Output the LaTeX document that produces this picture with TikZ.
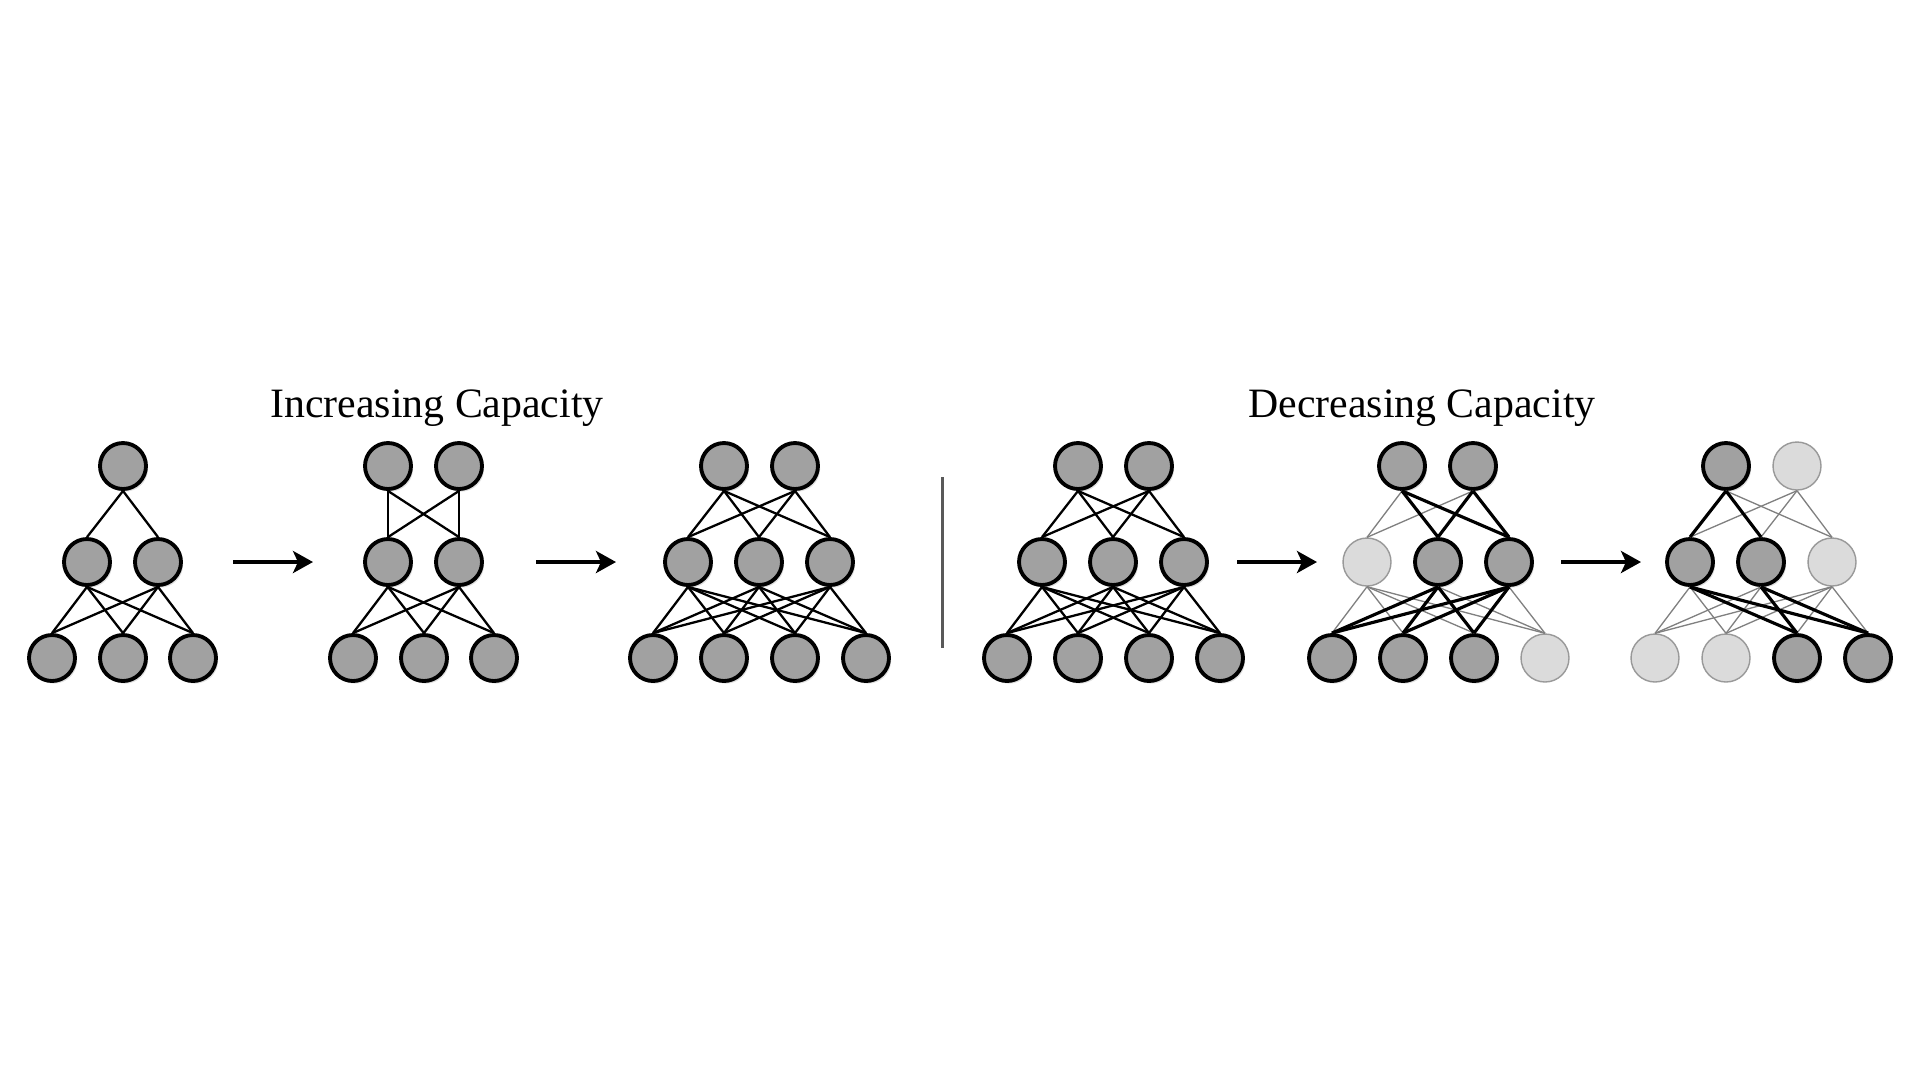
\documentclass[tikz,border=0pt]{standalone}
\usepackage{fontspec}
\setmainfont{Liberation Serif}
\usepackage{tikz}
\usetikzlibrary{shapes,arrows,arrows.meta}
\usetikzlibrary{shadows}

\begin{document}
\begin{tikzpicture}[x=0.02cm,y=-0.02cm]
\tikzstyle{unit} = [circle,minimum size=0.92cm,inner sep=0pt,fill=black!37,draw=black,line width=2.2pt,drop shadow={shadow xshift=1.2pt,shadow yshift=-1.5pt,opacity=0.25}]
\tikzstyle{offunit} = [circle,minimum size=0.96cm,inner sep=0pt,fill=black!14,draw=black!40,line width=0.8pt]
\tikzstyle{wire} = [draw=black,line width=1.3pt]
\tikzstyle{boldwire} = [draw=black,line width=1.8pt]
\tikzstyle{faintwire} = [draw=black!50,line width=0.75pt]
\tikzstyle{growarrow} = [-{Stealth[length=0.4cm,width=0.44cm,inset=0.1cm]},line width=2.2pt]
\tikzstyle{heading} = [font=\fontsize{23.8}{28}\selectfont,anchor=base]
\useasboundingbox (0,0) rectangle (1920,1080);

\node[heading] (inc) at (437,417) {Increasing Capacity};
\node[heading] (dec) at (1422,417) {Decreasing Capacity};

% network a
\node[unit] (a-t1) at (123,466) {};
\foreach \x [count=\i] in {87,158} \node[unit] (a-m\i) at (\x,562) {};
\foreach \x [count=\i] in {52,123,193} \node[unit] (a-b\i) at (\x,658) {};
\foreach \j in {1,2} \draw[wire] (a-t1.south) -- (a-m\j.north);
\foreach \i in {1,2} \foreach \j in {1,2,3} \draw[wire] (a-m\i.south) -- (a-b\j.north);

% network b
\foreach \x [count=\i] in {388,459} \node[unit] (b-t\i) at (\x,466) {};
\foreach \x [count=\i] in {388,459} \node[unit] (b-m\i) at (\x,562) {};
\foreach \x [count=\i] in {353,424,494} \node[unit] (b-b\i) at (\x,658) {};
\foreach \i in {1,2} \foreach \j in {1,2} \draw[wire] (b-t\i.south) -- (b-m\j.north);
\foreach \i in {1,2} \foreach \j in {1,2,3} \draw[wire] (b-m\i.south) -- (b-b\j.north);

% network c
\foreach \x [count=\i] in {724,795} \node[unit] (c-t\i) at (\x,466) {};
\foreach \x [count=\i] in {688,759,830} \node[unit] (c-m\i) at (\x,562) {};
\foreach \x [count=\i] in {653,724,795,866} \node[unit] (c-b\i) at (\x,658) {};
\foreach \i in {1,2} \foreach \j in {1,2,3} \draw[wire] (c-t\i.south) -- (c-m\j.north);
\foreach \i in {1,2,3} \foreach \j in {1,2,3,4} \draw[wire] (c-m\i.south) -- (c-b\j.north);

% network d
\foreach \x [count=\i] in {1078,1149} \node[unit] (d-t\i) at (\x,466) {};
\foreach \x [count=\i] in {1042,1113,1184} \node[unit] (d-m\i) at (\x,562) {};
\foreach \x [count=\i] in {1007,1078,1149,1220} \node[unit] (d-b\i) at (\x,658) {};
\foreach \i in {1,2} \foreach \j in {1,2,3} \draw[wire] (d-t\i.south) -- (d-m\j.north);
\foreach \i in {1,2,3} \foreach \j in {1,2,3,4} \draw[wire] (d-m\i.south) -- (d-b\j.north);

% network e
\foreach \x [count=\i] in {1402,1473} \node[unit] (e-t\i) at (\x,466) {};
\foreach \x/\s [count=\i] in {1367/offunit,1438/unit,1509/unit} \node[\s] (e-m\i) at (\x,562) {};
\foreach \x/\s [count=\i] in {1332/unit,1403/unit,1474/unit,1545/offunit} \node[\s] (e-b\i) at (\x,658) {};
\foreach \i in {1,2} \foreach \j in {1,2,3} \draw[faintwire] (e-t\i.south) -- (e-m\j.north);
\foreach \i in {1,2,3} \foreach \j in {1,2,3,4} \draw[faintwire] (e-m\i.south) -- (e-b\j.north);
\foreach \i in {1,2} \foreach \j in {2,3} \draw[boldwire] (e-t\i.south) -- (e-m\j.north);
\foreach \i in {2,3} \foreach \j in {1,2,3} \draw[boldwire] (e-m\i.south) -- (e-b\j.north);

% network f
\foreach \x/\s [count=\i] in {1726/unit,1797/offunit} \node[\s] (f-t\i) at (\x,466) {};
\foreach \x/\s [count=\i] in {1690/unit,1761/unit,1832/offunit} \node[\s] (f-m\i) at (\x,562) {};
\foreach \x/\s [count=\i] in {1655/offunit,1726/offunit,1797/unit,1868/unit} \node[\s] (f-b\i) at (\x,658) {};
\foreach \i in {1,2} \foreach \j in {1,2,3} \draw[faintwire] (f-t\i.south) -- (f-m\j.north);
\foreach \i in {1,2,3} \foreach \j in {1,2,3,4} \draw[faintwire] (f-m\i.south) -- (f-b\j.north);
\foreach \j in {1,2} \draw[boldwire] (f-t1.south) -- (f-m\j.north);
\foreach \i in {1,2} \foreach \j in {3,4} \draw[boldwire] (f-m\i.south) -- (f-b\j.north);

% arrows and divider
\coordinate (g1) at (233,562); \coordinate (g1e) at (313,562);
\coordinate (g2) at (536,562); \coordinate (g2e) at (616,562);
\coordinate (g3) at (1237,562); \coordinate (g3e) at (1317,562);
\coordinate (g4) at (1561,562); \coordinate (g4e) at (1641,562);
\draw[growarrow] (g1) -- (g1e);
\draw[growarrow] (g2) -- (g2e);
\draw[growarrow] (g3) -- (g3e);
\draw[growarrow] (g4) -- (g4e);
\coordinate (cut) at (942,477); \coordinate (cute) at (942,648);
\draw[color=black!65,line width=1.7pt] (cut) -- (cute);
\end{tikzpicture}
\end{document}
